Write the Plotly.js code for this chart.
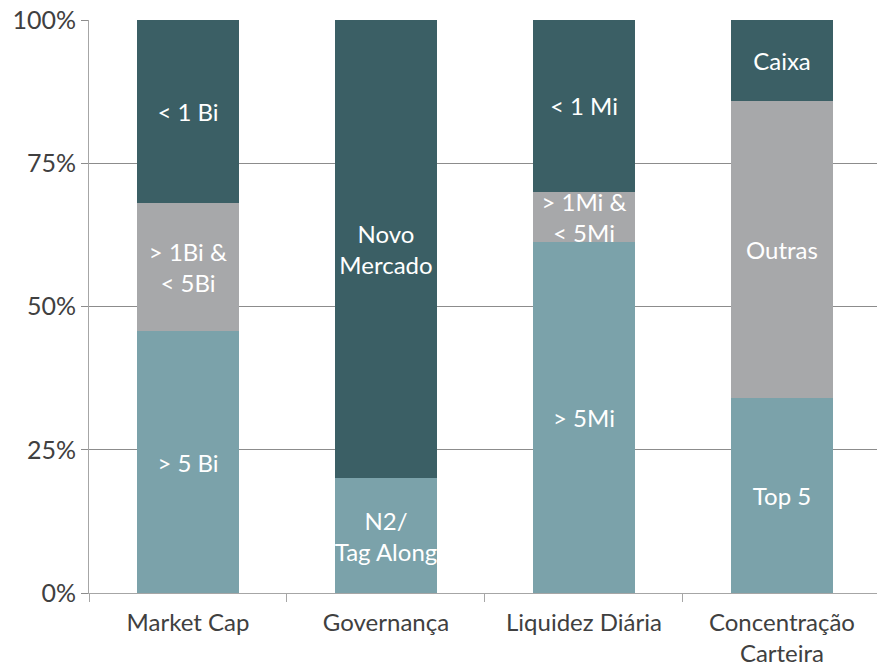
<!DOCTYPE html>
<html>
<head>
<meta charset="utf-8">
<script src="https://cdn.plot.ly/plotly-3.0.1.min.js"></script>
<style>html,body{margin:0;padding:0;background:#fff;}#chart{width:877px;height:669px;}</style>
</head>
<body>
<div id="chart"></div>
<script>
const categories = ["Market Cap", "Governança", "Liquidez Diária", "Concentração<br>Carteira"];
const bottomValues = [45.7, 20.0, 61.3, 34.0];
const bottomLabels = ["&gt; 5 Bi", "N2/<br>Tag Along", "&gt; 5Mi", "Top 5"];
const middleValues = [22.4, 0, 8.7, 51.9];
const middleLabels = ["&gt; 1Bi &amp;<br>&lt; 5Bi", "", "&gt; 1Mi &amp;<br>&lt; 5Mi", "Outras"];
const topValues = [31.9, 80.0, 30.0, 14.1];
const topLabels = ["&lt; 1 Bi", "Novo<br>Mercado", "&lt; 1 Mi", "Caixa"];
const yTicks = [0, 25, 50, 75, 100];
const yTickLabels = ["0%", "25%", "50%", "75%", "100%"];

const FONT = "Lato, 'Open Sans', sans-serif";
function mk(vals, labels, color) {
  return {
    type: "bar", x: categories, y: vals, text: labels,
    texttemplate: "%{text}",
    textposition: "inside", insidetextanchor: "middle", textangle: 0,
    textfont: {family: FONT, size: 24, color: "#ffffff"},
    marker: {color: color, line: {width: 0}},
    hoverinfo: "skip", showlegend: false, cliponaxis: true
  };
}
const data = [
  mk(bottomValues, bottomLabels, "#7BA2AA"),
  mk(middleValues, middleLabels, "#A7A8AA"),
  mk(topValues, topLabels, "#3B5F65")
];
const layout = {
  width: 877, height: 669,
  margin: {l: 89, r: 0, t: 20, b: 76},
  barmode: "stack", bargap: 0.485,
  paper_bgcolor: "#fff", plot_bgcolor: "#fff",
  uniformtext: {mode: "show", minsize: 24},
  font: {family: FONT, color: "#404040"},
  xaxis: {
    type: "category", range: [-0.5, 3.48],
    tickson: "boundaries", ticks: "outside", ticklen: 8, tickcolor: "#a6a6a6", tickwidth: 1,
    ticklabelstandoff: 8,
    showline: true, linecolor: "#a6a6a6", linewidth: 1,
    showgrid: false, tickfont: {family: FONT, size: 24, color: "#404040"}
  },
  yaxis: {
    range: [0, 100], tickvals: yTicks, ticktext: yTickLabels,
    ticks: "outside", ticklen: 7, tickcolor: "#8c8c8c",
    showline: true, linecolor: "#a6a6a6", linewidth: 1,
    showgrid: true, gridcolor: "#8c8c8c", gridwidth: 1, zeroline: false,
    tickfont: {family: FONT, size: 25, color: "#404040"}
  }
};
Plotly.newPlot("chart", data, layout, {displayModeBar: false, staticPlot: true});
</script>
</body>
</html>
